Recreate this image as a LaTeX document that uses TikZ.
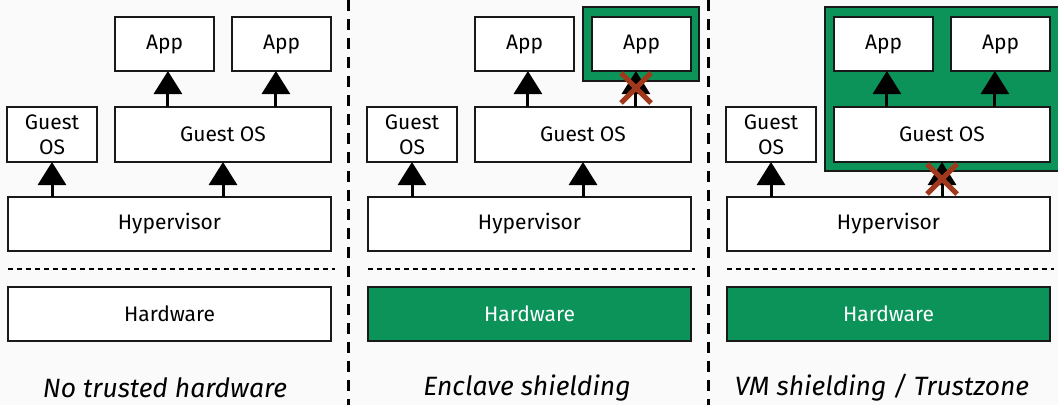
\documentclass[tikz,border=0pt]{standalone}
\usepackage{fontspec}
\setmainfont{Fira Sans}
\usetikzlibrary{arrows.meta,calc}
\definecolor{bgcol}{HTML}{FAFAFA}
\definecolor{shield}{RGB}{11,147,90}
\definecolor{crosscol}{RGB}{160,57,27}
\tikzset{
  box/.style={draw=black!90, line width=1.4pt, fill=white, inner sep=0pt, outer sep=0pt,
              align=center, font=\fontsize{21}{25}\selectfont},
  greenbox/.style={box, fill=shield, text=white},
  frame/.style={draw=black!90, line width=1.4pt, fill=shield},
  arr/.style={line width=3pt, -{Triangle[width=28pt 0 0,length=23pt 0 0]}},
  sep/.style={line width=3pt, dash pattern=on 11pt off 8pt},
  hwsep/.style={line width=1.3pt, dash pattern=on 5pt off 4pt},
  xmark/.style={draw=crosscol, line width=5pt},
  caption/.style={font=\fontsize{26.5}{30}\selectfont\itshape, inner sep=0pt}
}
\begin{document}
\begin{tikzpicture}[x=1pt, y=-1pt]
  \useasboundingbox (0,0) rectangle (1058,405);
  \fill[bgcol] (0,0) rectangle (1058,405);
  \clip (0,0) rectangle (1058,405);

  % shielded regions (behind the boxes)
  \draw[frame] (583,7) rectangle (699,81);
  \draw[frame] (825,7) rectangle (1062,171);

  % the three stacks
  \foreach \p/\dx/\hw in {a/0/box, b/360/greenbox, c/719/greenbox} {
    \node[box, minimum width=90, minimum height=55] (ga\p) at (52+\dx,134.5) {Guest\\OS};
    \node[box, minimum width=216, minimum height=55] (go\p) at (223+\dx,134.5) {Guest OS};
    \node[box, minimum width=99, minimum height=54] (ap\p) at (164.5+\dx,44) {App};
    \node[box, minimum width=99, minimum height=54] (aq\p) at (281.5+\dx,44) {App};
    \node[box, minimum width=323, minimum height=54] (hv\p) at (169.5+\dx,224) {Hypervisor};
    \node[\hw, minimum width=323, minimum height=54] (hw\p) at (169.5+\dx,314) {Hardware};
    \draw[hwsep] (8+\dx,269) -- (335+\dx,269);

    \coordinate (l\p) at ($(go\p.north west)!.245!(go\p.north east)$);
    \coordinate (r\p) at ($(go\p.north west)!.745!(go\p.north east)$);
    \draw[arr] (l\p) -- (l\p |- ap\p.south);
    \draw[arr] (r\p) -- (r\p |- aq\p.south);
    \draw[arr] (ga\p.south |- hv\p.north) -- (ga\p.south);
    \draw[arr] (go\p.south |- hv\p.north) -- (go\p.south);
  }

  % blocked paths
  \coordinate (xb) at (636,88);
  \draw[xmark] ($(xb)+(-15,-15)$) -- ($(xb)+(15,15)$);
  \draw[xmark] ($(xb)+(-15,15)$) -- ($(xb)+(15,-15)$);
  \coordinate (xc) at (942,179);
  \draw[xmark] ($(xc)+(-15,-15)$) -- ($(xc)+(15,15)$);
  \draw[xmark] ($(xc)+(-15,15)$) -- ($(xc)+(15,-15)$);

  % panel separators
  \draw[sep] (348,0) -- (348,405);
  \draw[sep] (708,0) -- (708,405);

  % captions
  \node[caption] (ca) at (165,388) {No trusted hardware};
  \node[caption] (cb) at (527,388) {Enclave shielding};
  \node[caption] (cc) at (882,388) {VM shielding / Trustzone};
\end{tikzpicture}
\end{document}
